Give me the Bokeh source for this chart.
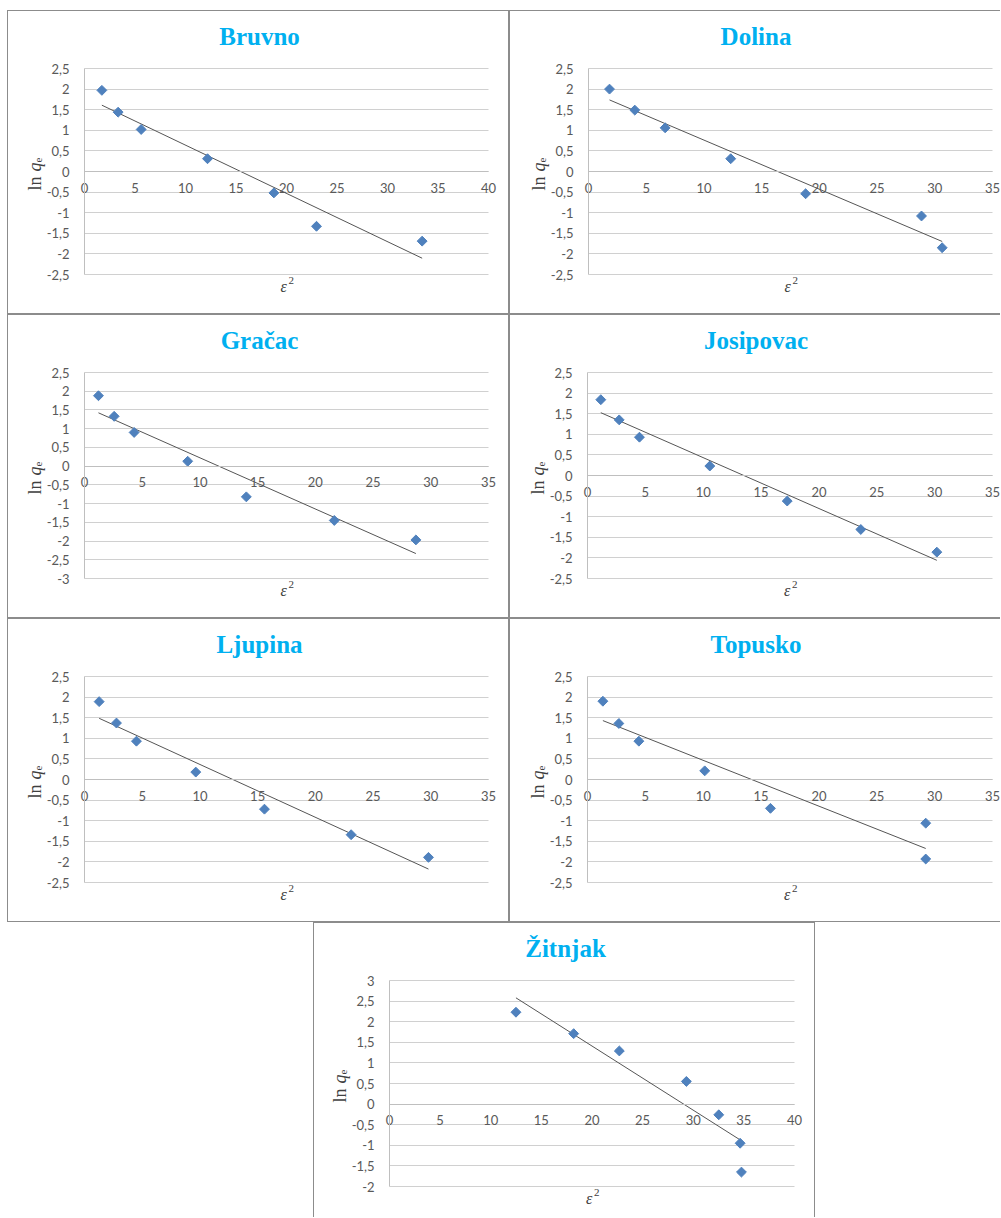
import numpy as np
from bokeh.plotting import figure
from bokeh.models import Range1d, FixedTicker, CustomJSTickFormatter, Label, Spacer
from bokeh.layouts import column, row
from bokeh.embed import file_html
from bokeh.resources import INLINE

# ---------------- data ----------------
bruvno_x = [1.72, 3.33, 5.61, 12.18, 18.75, 22.97, 33.43]
bruvno_y = [1.97, 1.44, 1.02, 0.31, -0.52, -1.33, -1.69]

dolina_x = [1.82, 4.01, 6.64, 12.32, 18.81, 28.85, 30.64]
dolina_y = [2.00, 1.49, 1.06, 0.31, -0.54, -1.08, -1.85]

gracac_x = [1.21, 2.57, 4.30, 8.94, 14.02, 21.64, 28.71]
gracac_y = [1.88, 1.33, 0.90, 0.13, -0.82, -1.45, -1.97]

josipovac_x = [1.15, 2.74, 4.49, 10.57, 17.26, 23.62, 30.19]
josipovac_y = [1.84, 1.35, 0.93, 0.23, -0.62, -1.31, -1.86]

ljupina_x = [1.27, 2.77, 4.50, 9.64, 15.59, 23.10, 29.80]
ljupina_y = [1.89, 1.37, 0.93, 0.18, -0.72, -1.34, -1.89]

topusko_x = [1.33, 2.71, 4.44, 10.13, 15.81, 29.23, 29.23]
topusko_y = [1.90, 1.36, 0.93, 0.21, -0.70, -1.06, -1.93]

zitnjak_x = [12.49, 18.19, 22.70, 29.32, 32.52, 34.63, 34.76]
zitnjak_y = [2.23, 1.71, 1.29, 0.55, -0.26, -0.95, -1.65]

titles = ["Bruvno", "Dolina", "Gračac", "Josipovac", "Ljupina", "Topusko", "Žitnjak"]

x_ticks_35 = [0, 5, 10, 15, 20, 25, 30, 35]
x_ticks_40 = [0, 5, 10, 15, 20, 25, 30, 35, 40]

y_tick_values = [-3, -2.5, -2, -1.5, -1, -0.5, 0, 0.5, 1, 1.5, 2, 2.5, 3]
y_tick_labels = ["-3", "-2,5", "-2", "-1,5", "-1", "-0,5", "0", "0,5", "1", "1,5", "2", "2,5", "3"]

x_title_main = "ε"
x_title_sup = "2"
y_title_main = "ln "
y_title_q = "q"
y_title_sub = "e"

# ---------------- styling ----------------
TITLE_COLOR = "#00B0F0"
MARKER_COLOR = "#4F81BD"
GRID_COLOR = "#d0d0d0"
AXIS_COLOR = "#bfbfbf"
TICK_COLOR = "#595959"
TEXT_DARK = "#404040"
TICK_FONT = "Lato"
SERIF = "Liberation Serif"
BORDER = "1px solid #8c8c8c"


def make_panel(name, xs, ys, x_ticks, ymin, ymax, W, H, ml, FW, MT=57, FH=206, extra_styles=None):
    xmax = x_ticks[-1]
    ppx = FW / (xmax - x_ticks[0])
    ppy = FH / (ymax - ymin)
    mb = H - MT - FH
    styles = {"border": BORDER}
    if extra_styles:
        styles.update(extra_styles)
    p = figure(width=W, height=H, title=None,
               x_range=Range1d(x_ticks[0] - ml / ppx, xmax + (W - ml - FW) / ppx),
               y_range=Range1d(ymin - mb / ppy, ymax + MT / ppy),
               min_border=0, output_backend="svg", toolbar_location=None,
               styles=styles)
    p.outline_line_color = None
    p.background_fill_color = "white"
    p.border_fill_color = "white"

    yt = [v for v in y_tick_values if ymin - 1e-9 <= v <= ymax + 1e-9]
    fmt = CustomJSTickFormatter(args=dict(vals=y_tick_values, labs=y_tick_labels), code="""
        const i = vals.findIndex(v => Math.abs(v - tick) < 1e-9);
        return i >= 0 ? labs[i] : String(tick).replace('.', ',');
    """)

    # x axis crossing at y = 0
    xa = p.xaxis[0]
    xa.ticker = FixedTicker(ticks=x_ticks)
    xa.fixed_location = 0
    xa.bounds = (x_ticks[0], xmax)
    xa.axis_line_color = AXIS_COLOR
    xa.major_tick_in = 0
    xa.major_tick_out = 0
    xa.minor_tick_line_color = None
    xa.major_label_standoff = 11
    xa.major_label_text_font = TICK_FONT
    xa.major_label_text_font_size = "13px"
    xa.major_label_text_color = TICK_COLOR

    # y axis at x = 0
    ya = p.yaxis[0]
    ya.ticker = FixedTicker(ticks=yt)
    ya.formatter = fmt
    ya.fixed_location = x_ticks[0]
    ya.bounds = (ymin, ymax)
    ya.axis_line_color = AXIS_COLOR
    ya.major_tick_in = 0
    ya.major_tick_out = 0
    ya.minor_tick_line_color = None
    ya.major_label_standoff = 15
    ya.major_label_text_font = TICK_FONT
    ya.major_label_text_font_size = "13px"
    ya.major_label_text_color = TICK_COLOR

    p.xgrid.visible = False
    p.ygrid.ticker = FixedTicker(ticks=yt)
    p.ygrid.bounds = (ymin, ymax)
    p.ygrid.cross_bounds = (x_ticks[0], xmax)
    p.ygrid.grid_line_color = GRID_COLOR
    p.ygrid.grid_line_width = 1

    # trend line (least squares fit of the points)
    xa_arr = np.array(xs)
    k, b = np.polyfit(xa_arr, np.array(ys), 1)
    lx = np.array([xa_arr.min(), xa_arr.max()])
    p.line(lx, k * lx + b, line_color="#555555", line_width=1)

    p.scatter(xs, ys, marker="square", size=7, angle=np.pi / 4,
              fill_color=MARKER_COLOR, line_color=MARKER_COLOR)

    # title centred on the panel
    p.add_layout(Label(x=W / 2, y=H - 25, x_units="screen", y_units="screen",
                       text=name, text_align="center", text_baseline="alphabetic",
                       text_font=SERIF, text_font_style="bold", text_font_size="25px",
                       text_color=TITLE_COLOR))

    # y title: ln q_e (rotated)
    s0 = mb + FH / 2 - 19
    xb = ml - 50
    p.add_layout(Label(x=xb, y=s0, x_units="screen", y_units="screen", angle=90, angle_units="deg",
                       text=y_title_main, text_align="left", text_baseline="alphabetic",
                       text_font=SERIF, text_font_size="18px", text_color=TEXT_DARK))
    p.add_layout(Label(x=xb, y=s0 + 19, x_units="screen", y_units="screen", angle=90, angle_units="deg",
                       text=y_title_q, text_align="left", text_baseline="alphabetic",
                       text_font=SERIF, text_font_style="italic", text_font_size="18px",
                       text_color=TEXT_DARK))
    p.add_layout(Label(x=xb + 4, y=s0 + 28, x_units="screen", y_units="screen", angle=90, angle_units="deg",
                       text=y_title_sub, text_align="left", text_baseline="alphabetic",
                       text_font=SERIF, text_font_size="11px", text_color=TEXT_DARK))

    # x title: ε²
    xc = ml + FW / 2
    p.add_layout(Label(x=xc - 6, y=mb - 12, x_units="screen", y_units="screen",
                       text=x_title_main, text_align="left", text_baseline="alphabetic",
                       text_font=SERIF, text_font_style="italic", text_font_size="16px",
                       text_color=TEXT_DARK))
    p.add_layout(Label(x=xc + 2, y=mb - 6, x_units="screen", y_units="screen",
                       text=x_title_sup, text_align="left", text_baseline="alphabetic",
                       text_font=SERIF, text_font_size="11px", text_color=TEXT_DARK))
    return p


WL, WR, H = 502, 491, 304
RIGHT = {"border-right": "none"}
f1 = make_panel(titles[0], bruvno_x, bruvno_y, x_ticks_40, -2.5, 2.5, WL, H, 76, 404)
f2 = make_panel(titles[1], dolina_x, dolina_y, x_ticks_35, -2.5, 2.5, WR, H, 78, 404, extra_styles=RIGHT)
f3 = make_panel(titles[2], gracac_x, gracac_y, x_ticks_35, -3, 2.5, WL, H, 76, 404)
f4 = make_panel(titles[3], josipovac_x, josipovac_y, x_ticks_35, -2.5, 2.5, WR, H, 77, 405, extra_styles=RIGHT)
f5 = make_panel(titles[4], ljupina_x, ljupina_y, x_ticks_35, -2.5, 2.5, WL, H, 76, 404)
f6 = make_panel(titles[5], topusko_x, topusko_y, x_ticks_35, -2.5, 2.5, WR, H, 77, 405, extra_styles=RIGHT)
f7 = make_panel(titles[6], zitnjak_x, zitnjak_y, x_ticks_40, -2, 3, WL, 295, 75, 405,
                extra_styles={"border-bottom": "none"})

layout = column(Spacer(width=1000, height=10),
                row(Spacer(width=7, height=H), f1, f2),
                row(Spacer(width=7, height=H), f3, f4),
                row(Spacer(width=7, height=H), f5, f6),
                row(Spacer(width=313, height=295), f7))

with open("out.html", "w") as fh:
    fh.write(file_html(layout, INLINE))
